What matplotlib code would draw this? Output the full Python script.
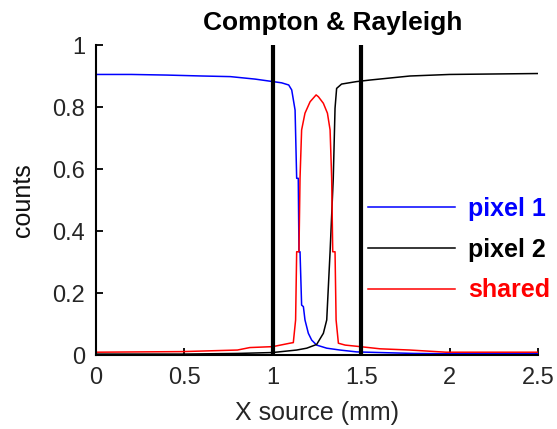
import numpy as np
import matplotlib
matplotlib.use("Agg")
import matplotlib.pyplot as plt

plt.rcParams['font.family'] = ['Liberation Sans', 'DejaVu Sans']

# pixel 1 (blue)
x1 = [0, 0.2, 0.4, 0.6, 0.76, 0.9, 1.0, 1.05, 1.09, 1.107, 1.126, 1.135, 1.144, 1.148,
      1.154, 1.163, 1.173, 1.182, 1.201, 1.22, 1.248, 1.305, 1.38, 1.474, 1.6, 1.8, 2.0, 2.5]
y1 = [0.905, 0.905, 0.903, 0.900, 0.898, 0.890, 0.882, 0.878, 0.871, 0.855, 0.79, 0.57, 0.57, 0.333,
      0.333, 0.161, 0.156, 0.113, 0.07, 0.048, 0.032, 0.022, 0.016, 0.01, 0.008, 0.005, 0.004, 0.004]

# pixel 2 (black)
x2 = [0, 0.5, 0.8, 1.0, 1.135, 1.192, 1.248, 1.286, 1.305, 1.324, 1.342, 1.352, 1.361,
      1.389, 1.474, 1.55, 1.776, 2.0, 2.5]
y2 = [0.003, 0.003, 0.005, 0.008, 0.016, 0.022, 0.034, 0.07, 0.113, 0.333, 0.57, 0.796, 0.860,
      0.874, 0.882, 0.887, 0.900, 0.905, 0.908]

# shared (red)
x3 = [0, 0.49, 0.8, 0.87, 1.0, 1.096, 1.116, 1.129, 1.135, 1.148, 1.154, 1.163, 1.182, 1.211,
      1.245, 1.258, 1.286, 1.309, 1.324, 1.333, 1.339, 1.352, 1.358, 1.371, 1.409, 1.494,
      1.606, 1.776, 1.98, 2.5]
y3 = [0.009, 0.011, 0.016, 0.024, 0.027, 0.038, 0.04, 0.113, 0.333, 0.333, 0.57, 0.726, 0.78, 0.817,
      0.839, 0.833, 0.812, 0.78, 0.726, 0.57, 0.333, 0.333, 0.113, 0.038, 0.032, 0.027,
      0.02, 0.016, 0.009, 0.009]

vlines = [1.0, 1.5]
xticks = [0, 0.5, 1, 1.5, 2, 2.5]
xticklabels = ['0', '0.5', '1', '1.5', '2', '2.5']
yticks = [0, 0.2, 0.4, 0.6, 0.8, 1]
yticklabels = ['0', '0.2', '0.4', '0.6', '0.8', '1']

fig = plt.figure(figsize=(5.57, 4.29), dpi=100)
ax = fig.add_axes([96 / 557, 74 / 429, 442 / 557, 310 / 429])

ax.plot(x1, y1, color='#0000ff', lw=1.1, label='pixel 1')
ax.plot(x2, y2, color='black', lw=1.1, label='pixel 2')
ax.plot(x3, y3, color='#ff0000', lw=1.1, label='shared')
for v in vlines:
    ax.axvline(v, color='black', lw=3)

ax.set_xlim(0, 2.5)
ax.set_ylim(0, 1)
ax.set_xticks(xticks)
ax.set_xticklabels(xticklabels)
ax.set_yticks(yticks)
ax.set_yticklabels(yticklabels)
ax.tick_params(direction='in', length=5, width=1.3, labelsize=17, colors='black',
               labelcolor='#262626')
ax.tick_params(axis='x', pad=9)
ax.tick_params(axis='y', pad=8)
for s in ['top', 'right']:
    ax.spines[s].set_visible(False)
for s in ['left', 'bottom']:
    ax.spines[s].set_linewidth(1.5)

ax.set_xlabel('X source (mm)', fontsize=18, labelpad=8, color='#262626')
ax.set_ylabel('counts', fontsize=18, labelpad=12, color='#111111')
ax.text(0.536, 1.07, 'Compton & Rayleigh', transform=ax.transAxes, ha='center', va='center',
        fontsize=19, fontweight='bold')

leg = ax.legend(loc='upper left', bbox_to_anchor=(0.615, 0.51), frameon=False,
                prop={'weight': 'bold', 'size': 18}, labelcolor='linecolor',
                handlelength=3.5, handletextpad=0.5, labelspacing=0.67,
                borderpad=0, borderaxespad=0)

fig.savefig('out.png', dpi=100)
